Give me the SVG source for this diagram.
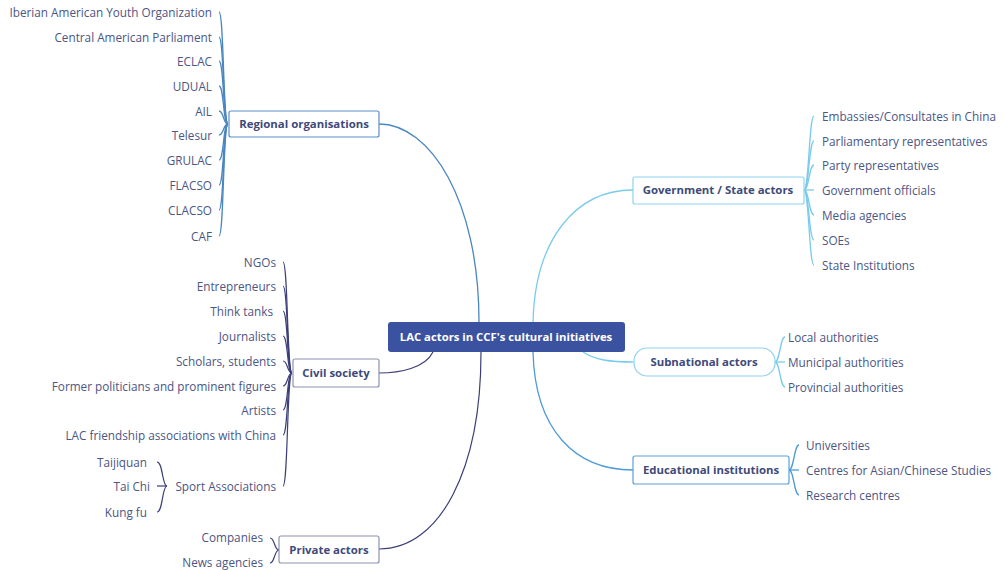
<svg xmlns="http://www.w3.org/2000/svg" width="1005" height="570" viewBox="0 0 1005 570">
<style>
text{font-family:"Open Sans","Noto Sans","Liberation Sans",sans-serif;font-size:11.75px;fill:#4b5685}
.l{text-anchor:end}
.r{text-anchor:start}
.b{font-weight:bold;font-size:11.4px;text-anchor:middle;fill:#3e4a7a}
.c{font-weight:bold;font-size:11.3px;text-anchor:middle;fill:#ffffff}
.box{fill:#ffffff;stroke-width:1.2}
path{fill:none}
.rg{stroke:#4a86bf;stroke-width:1.3}
.cv{stroke:#3b3f77;stroke-width:1.2}
.gv{stroke:#7acbeb;stroke-width:1.3}
.ed{stroke:#4f9bd8;stroke-width:1.3}
</style>
<rect width="1005" height="570" fill="#ffffff"/>
<g id="connectors">
<path class="rg" d="M379,124 C430,124 479,200 479,322"/>
<path class="cv" d="M433,352 C425,368 400,373 379,373"/>
<path class="cv" d="M481,352 C481,470 440,549 379,549"/>
<path class="gv" d="M533,322 C535,240 575,190 633,190"/>
<path class="gv" d="M583,352 C595,360 610,362 633,362"/>
<path class="ed" d="M533,352 C535,430 575,470 633,470"/>
<g class="rg">
<path d="M228,124 C223,124 224,12 219,12"/>
<path d="M228,124 C223,124 224,37 219,37"/>
<path d="M228,124 C223,124 224,61 219,61"/>
<path d="M228,124 C223,124 224,86 219,86"/>
<path d="M228,124 C223,124 224,111 219,111"/>
<path d="M228,124 C223,124 224,135 219,135"/>
<path d="M228,124 C223,124 224,160 219,160"/>
<path d="M228,124 C223,124 224,185 219,185"/>
<path d="M228,124 C223,124 224,210 219,210"/>
<path d="M228,124 C223,124 224,236 219,236"/>
</g>
<g class="cv">
<path d="M292,373 C287,373 288,262 283,262"/>
<path d="M292,373 C287,373 288,286 283,286"/>
<path d="M292,373 C287,373 288,311 283,311"/>
<path d="M292,373 C287,373 288,336 283,336"/>
<path d="M292,373 C287,373 288,361 283,361"/>
<path d="M292,373 C287,373 288,386 283,386"/>
<path d="M292,373 C287,373 288,410 283,410"/>
<path d="M292,373 C287,373 288,435 283,435"/>
<path d="M292,373 C287,373 288,486 283,486"/>
<path d="M167,486 C162,486 163,462 157,462"/>
<path d="M167,486 L157,486"/>
<path d="M167,486 C162,486 163,512 157,512"/>
<path d="M279,550 C274,550 275,538 270,538"/>
<path d="M279,550 C274,550 275,563 270,563"/>
</g>
<g class="gv">
<path d="M804,190 C809,190 809,116 814,116"/>
<path d="M804,190 C809,190 809,141 814,141"/>
<path d="M804,190 C809,190 809,165 814,165"/>
<path d="M804,190 C809,190 809,190 814,190"/>
<path d="M804,190 C809,190 809,215 814,215"/>
<path d="M804,190 C809,190 809,240 814,240"/>
<path d="M804,190 C809,190 809,265 814,265"/>
<path d="M775,362 C780,362 780,337 785,337"/>
<path d="M775,362 L785,362"/>
<path d="M775,362 C780,362 780,387 785,387"/>
</g>
<g class="ed">
<path d="M789,470 C794,470 794,445 799,445"/>
<path d="M789,470 L799,470"/>
<path d="M789,470 C794,470 794,495 799,495"/>
</g>
</g>
<g id="center">
<rect x="388" y="322" width="237" height="30" rx="3" fill="#3b52a0"/>
<text class="c" x="506" y="341">LAC actors in CCF's cultural initiatives</text>
</g>
<g id="regional">
<rect class="box" x="229" y="111" width="150" height="26" rx="2" stroke="#5b8fc6"/>
<text class="b" x="304" y="128">Regional organisations</text>
<text class="l" x="212" y="16.5">Iberian American Youth Organization</text>
<text class="l" x="212" y="41.5">Central American Parliament</text>
<text class="l" x="212" y="65.5">ECLAC</text>
<text class="l" x="212" y="90.5">UDUAL</text>
<text class="l" x="212" y="115.5">AIL</text>
<text class="l" x="212" y="139.5">Telesur</text>
<text class="l" x="212" y="164.5">GRULAC</text>
<text class="l" x="212" y="189.5">FLACSO</text>
<text class="l" x="212" y="214.5">CLACSO</text>
<text class="l" x="212" y="240.5">CAF</text>
</g>
<g id="civil">
<rect class="box" x="293" y="359" width="86" height="28" rx="2" stroke="#8d92b2"/>
<text class="b" x="336" y="377">Civil society</text>
<text class="l" x="276" y="266.5">NGOs</text>
<text class="l" x="276" y="290.5">Entrepreneurs</text>
<text class="l" x="273" y="315.5">Think tanks</text>
<text class="l" x="276" y="340.5">Journalists</text>
<text class="l" x="276" y="365.5">Scholars, students</text>
<text class="l" x="276" y="390.5">Former politicians and prominent figures</text>
<text class="l" x="276" y="414.5">Artists</text>
<text class="l" x="276" y="439.5">LAC friendship associations with China</text>
<text class="l" x="276" y="490.5">Sport Associations</text>
<text class="l" x="147" y="466.5">Taijiquan</text>
<text class="l" x="150" y="490.5">Tai Chi</text>
<text class="l" x="147" y="516.5">Kung fu</text>
</g>
<g id="private">
<rect class="box" x="279" y="536" width="100" height="27" rx="2" stroke="#8d92b2"/>
<text class="b" x="329" y="553.5">Private actors</text>
<text class="l" x="263" y="542">Companies</text>
<text class="l" x="263" y="567">News agencies</text>
</g>
<g id="government">
<rect class="box" x="633" y="177" width="171" height="27" rx="2" stroke="#8fd2ee"/>
<text class="b" x="718" y="194">Government / State actors</text>
<text class="r" x="822" y="120.5">Embassies/Consultates in China</text>
<text class="r" x="822" y="145.5">Parliamentary representatives</text>
<text class="r" x="822" y="169.5">Party representatives</text>
<text class="r" x="822" y="194.5">Government officials</text>
<text class="r" x="822" y="219.5">Media agencies</text>
<text class="r" x="822" y="244.5">SOEs</text>
<text class="r" x="822" y="269.5">State Institutions</text>
</g>
<g id="subnational">
<rect class="box" x="634" y="348" width="141" height="28" rx="13" stroke="#8fd2ee"/>
<text class="b" x="704" y="366">Subnational actors</text>
<text class="r" x="788" y="341.5">Local authorities</text>
<text class="r" x="788" y="366.5">Municipal authorities</text>
<text class="r" x="788" y="391.5">Provincial authorities</text>
</g>
<g id="educational">
<rect class="box" x="633" y="456" width="156" height="28" rx="2" stroke="#5c9fdc"/>
<text class="b" x="711" y="474">Educational institutions</text>
<text class="r" x="806" y="449.5">Universities</text>
<text class="r" x="806" y="474.5">Centres for Asian/Chinese Studies</text>
<text class="r" x="806" y="499.5">Research centres</text>
</g>
</svg>
